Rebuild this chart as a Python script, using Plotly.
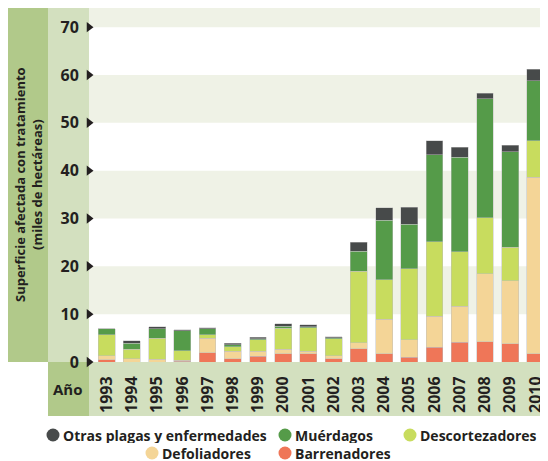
import plotly.graph_objects as go

years = list(range(1993, 2011))
barrenadores = [0.5, 0.0, 0.0, 0.2, 1.9, 0.7, 1.2, 1.7, 1.7, 0.7, 2.8, 1.7, 1.0, 3.1, 4.1, 4.2, 3.8, 1.7]
defoliadores = [0.8, 0.7, 0.6, 0.2, 3.1, 1.5, 1.0, 1.0, 0.5, 0.6, 1.25, 7.2, 3.7, 6.5, 7.6, 14.2, 13.2, 36.9]
descortezadores = [4.4, 2.0, 4.4, 2.0, 0.7, 1.0, 2.5, 4.4, 5.0, 3.6, 14.9, 8.3, 14.8, 15.5, 11.3, 11.75, 7.0, 7.6]
muerdagos = [1.2, 1.2, 1.9, 4.1, 1.2, 0.4, 0.15, 0.35, 0.2, 0.15, 4.2, 12.4, 9.3, 18.2, 19.8, 24.85, 19.9, 12.6]
otras = [0.0, 0.5, 0.5, 0.2, 0.3, 0.3, 0.3, 0.5, 0.35, 0.2, 1.9, 2.6, 3.6, 2.9, 2.1, 1.2, 1.4, 2.4]
y_ticks = [0, 10, 20, 30, 40, 50, 60, 70]

# stacking order, bottom to top
series = [
    ("Barrenadores", barrenadores, "#ef7658"),
    ("Defoliadores", defoliadores, "#f4d597"),
    ("Descortezadores", descortezadores, "#c8dc5e"),
    ("Muérdagos", muerdagos, "#559b49"),
    ("Otras plagas y enfermedades", otras, "#474a4a"),
]
colors = {name: col for name, _, col in series}

dark_band = "#b1c98a"
light_band = "#d3e0bf"
stripe = "#eff2e6"
txt = "#231f20"
font = "Open Sans"

# the page adds an 8px body margin, so the figure itself is 540x453
W, H = 540, 453
L, R, T, B = 81, 0, 0, 99
pw, ph = W - L - R, H - T - B

def px_x(x):
    return (x - L) / pw

def px_y(y):
    return (H - B - y) / ph

x_range = [years[0] - 0.7, years[-1] + 0.5]

fig = go.Figure()
for name, vals, col in series:
    fig.add_trace(go.Bar(x=years, y=vals, name=name, marker_color=col,
                         marker_line=dict(color="rgba(190,190,190,0.6)", width=0.8),
                         showlegend=False))

# small triangles on the y ticks
fig.add_trace(go.Scatter(x=[x_range[0]] * len(y_ticks), y=y_ticks, mode="markers",
                         marker=dict(symbol="triangle-right", size=9, color=txt),
                         cliponaxis=False, showlegend=False, hoverinfo="skip"))

shapes = []
for lo in [10, 30, 50, 70]:
    shapes.append(dict(type="rect", xref="paper", yref="y", x0=0, x1=1, y0=lo, y1=min(lo + 10, 74),
                       fillcolor=stripe, line_width=0, layer="below"))
shapes += [
    dict(type="rect", xref="paper", yref="paper", x0=px_x(0), x1=px_x(40), y0=0, y1=1,
         fillcolor=dark_band, line_width=0, layer="below"),
    dict(type="rect", xref="paper", yref="paper", x0=px_x(40), x1=0, y0=0, y1=1,
         fillcolor=light_band, line_width=0, layer="below"),
    dict(type="rect", xref="paper", yref="paper", x0=px_x(40), x1=0, y0=px_y(408), y1=0,
         fillcolor=dark_band, line_width=0, layer="below"),
    dict(type="rect", xref="paper", yref="paper", x0=0, x1=1, y0=px_y(408), y1=0,
         fillcolor=light_band, line_width=0, layer="below"),
]

annotations = [
    dict(text="<b>Superficie afectada con tratamiento<br>(miles de hectáreas)</b>",
         xref="paper", yref="paper", x=px_x(20), y=px_y(177), textangle=-90, showarrow=False,
         font=dict(family=font, size=13, color=txt), xanchor="center", yanchor="middle"),
    dict(text="<b>Año</b>", xref="paper", yref="paper", x=px_x(60), y=px_y(381), showarrow=False,
         font=dict(family=font, size=15, color=txt), xanchor="center", yanchor="middle"),
]

# legend laid out as in the reference: two centred rows
legend_rows = [
    (427, [("Otras plagas y enfermedades", 45), ("Muérdagos", 277), ("Descortezadores", 402)]),
    (445, [("Defoliadores", 144), ("Barrenadores", 277)]),
]
for ly, items in legend_rows:
    for name, cx in items:
        shapes.append(dict(type="circle", xref="paper", yref="paper",
                           xsizemode="pixel", ysizemode="pixel",
                           xanchor=px_x(cx), yanchor=px_y(ly), x0=-6.5, x1=6.5, y0=-6.5, y1=6.5,
                           fillcolor=colors[name], line_width=0))
        annotations.append(dict(text="<b>%s</b>" % name, xref="paper", yref="paper",
                                x=px_x(cx + 9), y=px_y(ly), xanchor="left", yanchor="middle",
                                height=16, borderpad=0,
                                showarrow=False, font=dict(family=font, size=14, color=txt)))

fig.update_layout(
    width=W, height=H,
    margin=dict(l=L, r=R, t=T, b=B),
    paper_bgcolor="white", plot_bgcolor="white",
    barmode="stack", bargap=0.33,
    font=dict(family=font, color=txt),
    showlegend=False,
    shapes=shapes,
    annotations=annotations,
    xaxis=dict(range=x_range, tickvals=years, tickangle=-90, showgrid=False, zeroline=False,
               automargin=False, ticks="outside", ticklen=7, tickcolor="rgba(0,0,0,0)",
               tickfont=dict(family=font, size=16, color=txt, weight="bold")),
    yaxis=dict(range=[0, 74], tickvals=y_ticks, showgrid=False, zeroline=False,
               automargin=False, ticks="outside", ticklen=6, tickcolor="rgba(0,0,0,0)",
               tickfont=dict(family=font, size=16, color=txt, weight="bold")),
)

fig.write_html("out.html")
